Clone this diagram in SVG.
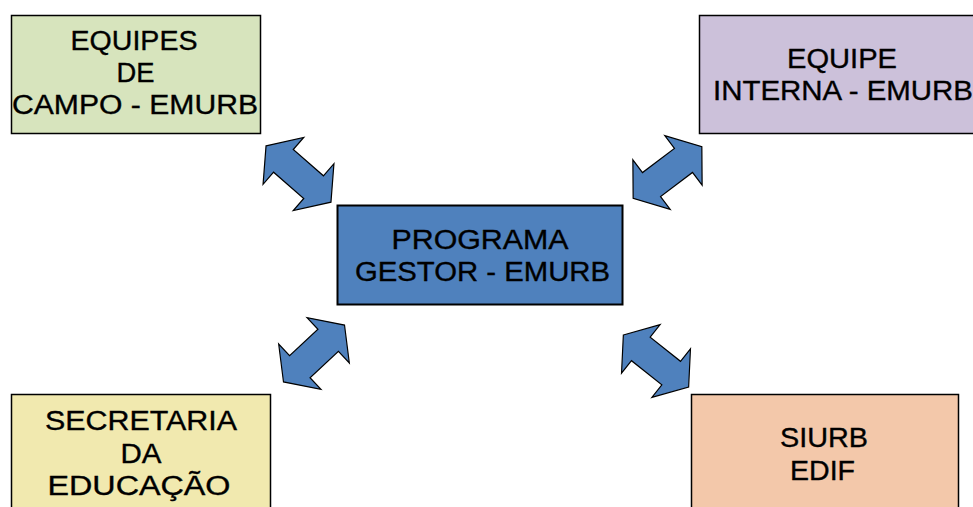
<svg xmlns="http://www.w3.org/2000/svg" width="973" height="507" viewBox="0 0 973 507">
<style>
.box{stroke:#000;stroke-width:1.5}
.t{font-family:"Liberation Sans",Arial,sans-serif;font-size:27px;fill:#000;stroke:#000;stroke-width:0.35;text-anchor:middle}
.arr{fill:#4F81BD;stroke:#000;stroke-width:1.2;stroke-linejoin:miter}
</style>
<defs>
<polygon id="dbl" points="-43,0 -20,-31 -20,-15 20,-15 20,-31 43,0 20,31 20,15 -20,15 -20,31"/>
</defs>
<rect x="0" y="0" width="973" height="507" fill="#fff"/>
<g id="connectors">
<use href="#dbl" class="arr" transform="translate(298.5,174) rotate(41)"/>
<use href="#dbl" class="arr" transform="translate(667.5,172.5) rotate(-37)"/>
<use href="#dbl" class="arr" transform="translate(314,353.5) rotate(-43) scale(0.97,1)"/>
<use href="#dbl" class="arr" transform="translate(656,361) rotate(38.5) scale(0.97,1)"/>
</g>
<g id="equipes-campo">
<rect class="box" x="11.5" y="15.5" width="249" height="118" fill="#D7E4BD"/>
<text class="t" x="134" y="50" textLength="127" lengthAdjust="spacingAndGlyphs">EQUIPES</text>
<text class="t" x="135.5" y="82" textLength="38" lengthAdjust="spacingAndGlyphs">DE</text>
<text class="t" x="135" y="114" textLength="246" lengthAdjust="spacingAndGlyphs">CAMPO - EMURB</text>
</g>
<g id="equipe-interna">
<rect class="box" x="699.5" y="15.5" width="290" height="118" fill="#CCC1DA"/>
<text class="t" x="842" y="68" textLength="110" lengthAdjust="spacingAndGlyphs">EQUIPE</text>
<text class="t" x="843" y="100" textLength="260" lengthAdjust="spacingAndGlyphs">INTERNA - EMURB</text>
</g>
<g id="programa-gestor">
<rect x="337.5" y="205.5" width="285" height="99" fill="#4F81BD" stroke="#000" stroke-width="2"/>
<text class="t" x="480" y="249" textLength="177" lengthAdjust="spacingAndGlyphs">PROGRAMA</text>
<text class="t" x="482.5" y="281" textLength="255" lengthAdjust="spacingAndGlyphs">GESTOR - EMURB</text>
</g>
<g id="secretaria">
<rect class="box" x="11.5" y="394.5" width="259" height="130" fill="#F1E9AF"/>
<text class="t" x="141" y="430" textLength="192" lengthAdjust="spacingAndGlyphs">SECRETARIA</text>
<text class="t" x="141" y="463" textLength="41" lengthAdjust="spacingAndGlyphs">DA</text>
<text class="t" x="139" y="495" textLength="183" lengthAdjust="spacingAndGlyphs">EDUCAÇÃO</text>
</g>
<g id="siurb">
<rect class="box" x="691.5" y="394.5" width="267" height="130" fill="#F3C8AA"/>
<text class="t" x="824" y="447" textLength="88" lengthAdjust="spacingAndGlyphs">SIURB</text>
<text class="t" x="822.5" y="480" textLength="65" lengthAdjust="spacingAndGlyphs">EDIF</text>
</g>
</svg>
